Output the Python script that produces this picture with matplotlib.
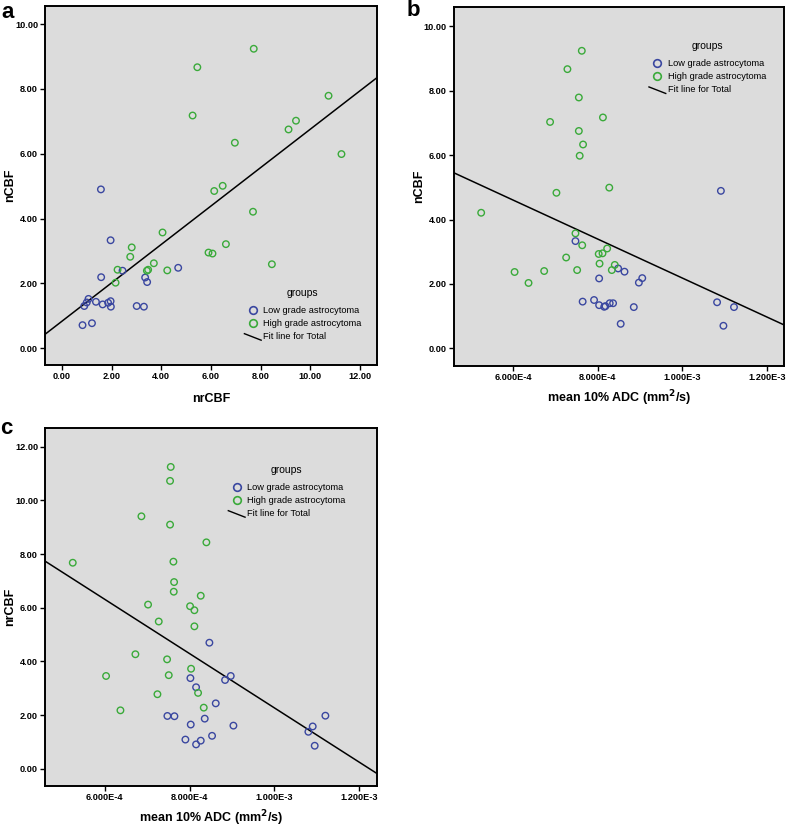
import numpy as np
import matplotlib
matplotlib.use("Agg")
import matplotlib.pyplot as plt
import matplotlib.ticker as mticker
from matplotlib.lines import Line2D
from matplotlib.legend_handler import HandlerLine2D

plt.rcParams['font.family'] = ['Liberation Sans', 'DejaVu Sans']

# ---------------- data ----------------
# Panel a: nrCBF (x) vs nCBF (y)
a_low_x = [1.57, 1.96, 1.58, 2.44, 3.35, 3.43, 4.68, 1.07, 1.00, 0.90, 1.37, 1.64,
           1.86, 1.96, 1.97, 3.01, 3.30, 0.83, 1.21]
a_low_y = [4.90, 3.33, 2.19, 2.39, 2.18, 2.04, 2.48, 1.52, 1.41, 1.30, 1.43, 1.35,
           1.40, 1.45, 1.28, 1.30, 1.28, 0.71, 0.77]
a_high_x = [5.45, 7.72, 5.26, 10.73, 9.42, 9.12, 6.96, 11.25, 6.47, 6.13, 7.69, 4.05,
            6.60, 2.81, 2.75, 5.90, 6.06, 3.70, 8.45, 2.24, 3.42, 3.47, 4.24, 2.16]
a_high_y = [8.67, 9.24, 7.18, 7.79, 7.02, 6.75, 6.34, 5.99, 5.01, 4.85, 4.21, 3.57,
            3.21, 3.11, 2.82, 2.95, 2.92, 2.62, 2.59, 2.42, 2.39, 2.42, 2.40, 2.02]
a_fit = (0.593, 0.83)   # slope, intercept

# Panel b: mean 10% ADC (x) vs nCBF (y)
b_low_x = [1.091e-3, 7.47e-4, 8.03e-4, 8.48e-4, 8.63e-4, 9.05e-4, 8.97e-4, 7.64e-4,
           7.91e-4, 8.03e-4, 8.15e-4, 8.18e-4, 8.28e-4, 8.36e-4, 8.85e-4, 1.082e-3,
           1.122e-3, 8.54e-4, 1.097e-3]
b_low_y = [4.89, 3.33, 2.17, 2.48, 2.38, 2.18, 2.04, 1.45, 1.50, 1.34, 1.29, 1.31,
           1.40, 1.40, 1.28, 1.43, 1.28, 0.76, 0.70]
b_high_x = [7.62e-4, 7.28e-4, 7.55e-4, 8.12e-4, 6.87e-4, 7.55e-4, 7.65e-4, 7.57e-4,
            8.27e-4, 7.02e-4, 5.24e-4, 7.47e-4, 7.63e-4, 8.22e-4, 7.25e-4, 8.02e-4,
            8.11e-4, 8.04e-4, 8.40e-4, 6.03e-4, 6.73e-4, 7.51e-4, 8.33e-4, 6.36e-4]
b_high_y = [9.24, 8.67, 7.79, 7.17, 7.03, 6.75, 6.33, 5.98, 4.99, 4.83, 4.21, 3.57,
            3.20, 3.10, 2.82, 2.93, 2.95, 2.63, 2.59, 2.37, 2.40, 2.43, 2.43, 2.03]
b_fit = (-6049.0, 8.23)

# Panel c: mean 10% ADC (x) vs nrCBF (y)
c_low_x = [8.469e-4, 8.021e-4, 8.973e-4, 8.839e-4, 8.155e-4, 8.619e-4, 7.478e-4,
           7.644e-4, 1.1206e-3, 8.359e-4, 8.029e-4, 9.036e-4, 1.0907e-3, 1.0805e-3,
           8.532e-4, 7.903e-4, 8.265e-4, 8.155e-4, 1.0954e-3]
c_low_y = [4.70, 3.38, 3.46, 3.31, 3.04, 2.44, 1.97, 1.96, 1.98, 1.87, 1.65, 1.61,
           1.58, 1.38, 1.23, 1.09, 1.05, 0.91, 0.86]
c_high_x = [7.557e-4, 7.541e-4, 6.865e-4, 7.541e-4, 8.398e-4, 5.245e-4, 7.62e-4,
            7.636e-4, 7.628e-4, 8.265e-4, 7.022e-4, 8.013e-4, 8.115e-4, 7.274e-4,
            8.115e-4, 6.723e-4, 7.471e-4, 8.037e-4, 6.031e-4, 7.51e-4, 7.243e-4,
            8.202e-4, 8.336e-4, 6.37e-4]
c_high_y = [11.25, 10.73, 9.41, 9.10, 8.44, 7.68, 7.72, 6.96, 6.60, 6.45, 6.12, 6.06,
            5.91, 5.49, 5.31, 4.27, 4.08, 3.73, 3.46, 3.49, 2.78, 2.83, 2.28, 2.18]
c_fit = (-10106.0, 12.38)

a_xticks = [0, 2, 4, 6, 8, 10, 12]
a_yticks = [0, 2, 4, 6, 8, 10]
adc_ticks = [6e-4, 8e-4, 1e-3, 1.2e-3]
adc_ticklabels = ["6.000E-4", "8.000E-4", "1.000E-3", "1.200E-3"]
c_yticks = [0, 2, 4, 6, 8, 10, 12]

group_labels = ["Low grade astrocytoma", "High grade astrocytoma"]
fit_label = "Fit line for Total"
adc_label = "mean 10% ADC (mm$^{\\mathbf{2}}$/s)"

# ---------------- style ----------------
BLUE = "#3a47a0"
GREEN = "#3aaa3a"
BG = "#dcdcdc"
W, H = 787, 827


class DiagHandler(HandlerLine2D):
    def create_artists(self, legend, orig_handle, xdescent, ydescent, width,
                       height, fontsize, trans):
        l = Line2D([-xdescent, -xdescent + width],
                   [height * 0.85 - ydescent, -ydescent - height * 0.15],
                   color='black', lw=1.0)
        l.set_transform(trans)
        return [l]


def px_axes(fig, x0, y0, x1, y1):
    return fig.add_axes([x0 / W, 1 - y1 / H, (x1 - x0) / W, (y1 - y0) / H])


def style(ax):
    ax.set_facecolor(BG)
    for s in ax.spines.values():
        s.set_linewidth(1.4)
        s.set_color('black')
    ax.tick_params(direction='out', length=3.5, width=1.0, labelsize=6.6,
                   pad=1.5)
    for t in ax.get_xticklabels() + ax.get_yticklabels():
        t.set_fontweight('bold')


def draw(ax, lx, ly, hx, hy, fit, xlim, ylim, legend_anchor):
    ax.scatter(lx, ly, s=22, facecolors='none', edgecolors=BLUE, linewidths=1.0,
               zorder=3)
    ax.scatter(hx, hy, s=22, facecolors='none', edgecolors=GREEN, linewidths=1.0,
               zorder=3)
    xs = np.array(xlim)
    ax.plot(xs, fit[0] * xs + fit[1], color='black', lw=1.1, zorder=2)
    ax.set_xlim(xlim)
    ax.set_ylim(ylim)
    handles = [Line2D([], [], ls='none', marker='o', mfc='none', mec=BLUE,
                      ms=5.5, mew=1.2),
               Line2D([], [], ls='none', marker='o', mfc='none', mec=GREEN,
                      ms=5.5, mew=1.2),
               Line2D([], [], color='black', lw=1.0)]
    leg = ax.legend(handles, group_labels + [fit_label], title="groups",
                    loc='upper left', bbox_to_anchor=legend_anchor,
                    frameon=False, fontsize=6.7, title_fontsize=7.5,
                    handlelength=1.8, handletextpad=0.2, labelspacing=0.45,
                    borderpad=0.2, handler_map={handles[2]: DiagHandler()})
    leg._legend_box.align = "center"
    leg._legend_box.sep = 6.0


fig = plt.figure(figsize=(W / 100, H / 100), dpi=100)

# Panel a
axa = px_axes(fig, 45, 6, 377, 365)
draw(axa, a_low_x, a_low_y, a_high_x, a_high_y, a_fit, (-0.68, 12.68),
     (-0.52, 10.56), (0.581, 0.234))
axa.set_xticks(a_xticks)
axa.set_yticks(a_yticks)
axa.xaxis.set_major_formatter(mticker.FormatStrFormatter('%.2f'))
axa.yaxis.set_major_formatter(mticker.FormatStrFormatter('%.2f'))
axa.set_xlabel("nrCBF", fontsize=9, fontweight='bold', labelpad=9)
axa.set_ylabel("nCBF", fontsize=9, fontweight='bold', labelpad=-1)
style(axa)

# Panel b
axb = px_axes(fig, 453.7, 7, 784.3, 365.7)
draw(axb, b_low_x, b_low_y, b_high_x, b_high_y, b_fit, (4.59e-4, 1.241e-3),
     (-0.54, 10.6), (0.571, 0.924))
axb.set_xticks(adc_ticks)
axb.set_xticklabels(adc_ticklabels)
axb.set_yticks(a_yticks)
axb.yaxis.set_major_formatter(mticker.FormatStrFormatter('%.2f'))
axb.set_xlabel(adc_label, fontsize=9, fontweight='bold', labelpad=5)
axb.set_ylabel("nCBF", fontsize=9, fontweight='bold', labelpad=-1)
style(axb)

# Panel c
axc = px_axes(fig, 45, 428.3, 376.7, 786)
draw(axc, c_low_x, c_low_y, c_high_x, c_high_y, c_fit, (4.59e-4, 1.2417e-3),
     (-0.64, 12.69), (0.533, 0.917))
axc.set_xticks(adc_ticks)
axc.set_xticklabels(adc_ticklabels)
axc.set_yticks(c_yticks)
axc.yaxis.set_major_formatter(mticker.FormatStrFormatter('%.2f'))
axc.set_xlabel(adc_label, fontsize=9, fontweight='bold', labelpad=5)
axc.set_ylabel("nrCBF", fontsize=9, fontweight='bold', labelpad=-1)
style(axc)

fig.text(1 / W, 1 - 2 / H, "a", fontsize=16, fontweight='bold', va='top', ha='left')
fig.text(407 / W, 1 - 0 / H, "b", fontsize=16, fontweight='bold', va='top', ha='left')
fig.text(0 / W, 1 - 418 / H, "c", fontsize=16, fontweight='bold', va='top', ha='left')

fig.savefig("out.png", dpi=100)
